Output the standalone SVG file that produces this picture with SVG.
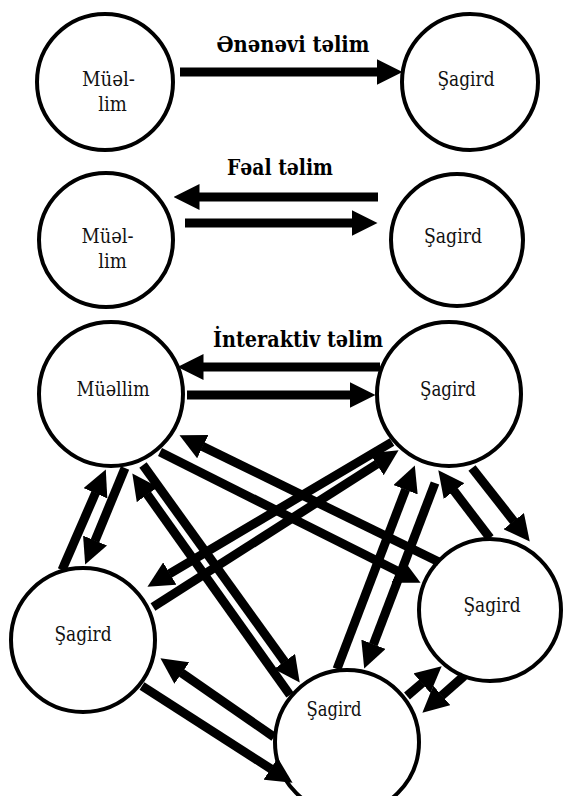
<svg xmlns="http://www.w3.org/2000/svg" width="564" height="796" viewBox="0 0 564 796">
<style>
.node circle{fill:#fff;stroke:#000;stroke-width:4}
.lbl{font-family:'DejaVu Serif Condensed','DejaVu Serif',serif;font-stretch:condensed;font-size:20px;fill:#111;text-anchor:middle}
.title{font-family:'DejaVu Serif Condensed','DejaVu Serif',serif;font-stretch:condensed;font-size:23px;font-weight:bold;fill:#000;text-anchor:middle}
.conn line{stroke:#000;stroke-width:9;marker-end:url(#ah)}
</style>
<defs>
<marker id="ah" markerUnits="userSpaceOnUse" markerWidth="26" markerHeight="26" viewBox="0 0 26 26" refX="0.5" refY="13" orient="auto">
<path d="M0,0 L26,13 L0,26 z" fill="#000"/>
</marker>
</defs>
<rect width="564" height="796" fill="#fff"/>
<text class="title" x="293" y="52" textLength="153" lengthAdjust="spacingAndGlyphs">Ənənəvi təlim</text>
<text class="title" x="280" y="175" textLength="106" lengthAdjust="spacingAndGlyphs">Fəal təlim</text>
<text class="title" x="298" y="347" textLength="170" lengthAdjust="spacingAndGlyphs">İnteraktiv təlim</text>
<g id="n1" class="node"><circle cx="105" cy="82" r="68"/><text class="lbl" x="108.5" y="86" textLength="53" lengthAdjust="spacingAndGlyphs">Müəl-</text><text class="lbl" x="112.5" y="111">lim</text></g>
<g id="n2" class="node"><circle cx="470" cy="82" r="68"/><text class="lbl" x="466" y="86" textLength="57" lengthAdjust="spacingAndGlyphs">Şagird</text></g>
<g id="n3" class="node"><circle cx="106" cy="240" r="67"/><text class="lbl" x="107.5" y="243" textLength="52" lengthAdjust="spacingAndGlyphs">Müəl-</text><text class="lbl" x="112.5" y="268">lim</text></g>
<g id="n4" class="node"><circle cx="457" cy="240" r="66"/><text class="lbl" x="453" y="243" textLength="58" lengthAdjust="spacingAndGlyphs">Şagird</text></g>
<g id="nA" class="node"><circle cx="111" cy="394" r="72"/><text class="lbl" x="113" y="396" textLength="73" lengthAdjust="spacingAndGlyphs">Müəllim</text></g>
<g id="nB" class="node"><circle cx="449" cy="394" r="72"/><text class="lbl" x="448" y="396" textLength="56" lengthAdjust="spacingAndGlyphs">Şagird</text></g>
<g id="nC" class="node"><circle cx="83" cy="640" r="72"/><text class="lbl" x="83" y="641" textLength="57" lengthAdjust="spacingAndGlyphs">Şagird</text></g>
<g id="nD" class="node"><circle cx="490" cy="610" r="71"/><text class="lbl" x="492" y="612" textLength="57" lengthAdjust="spacingAndGlyphs">Şagird</text></g>
<g id="nE" class="node"><circle cx="347" cy="742" r="72"/><text class="lbl" x="334" y="716" textLength="55" lengthAdjust="spacingAndGlyphs">Şagird</text></g>
<g id="connectors" class="conn">
<line x1="180" y1="72" x2="377" y2="72"/>
<line x1="378" y1="197" x2="199" y2="197"/>
<line x1="185" y1="223" x2="352" y2="223"/>
<line x1="380" y1="367" x2="203" y2="367"/>
<line x1="187" y1="395" x2="350" y2="395"/>
<line x1="62" y1="570" x2="95.6" y2="492.8"/>
<line x1="125" y1="468" x2="94.9" y2="541"/>
<line x1="290" y1="695" x2="147.1" y2="494.2"/>
<line x1="143" y1="465" x2="284.8" y2="661.9"/>
<line x1="439" y1="562" x2="202.4" y2="446.4"/>
<line x1="160" y1="452" x2="397.8" y2="571.3"/>
<line x1="392" y1="442" x2="169.4" y2="573.8"/>
<line x1="153" y1="607" x2="377.1" y2="464"/>
<line x1="337" y1="669" x2="405.7" y2="489.3"/>
<line x1="435" y1="483" x2="373.3" y2="644.7"/>
<line x1="490" y1="538" x2="453.8" y2="490.6"/>
<line x1="472" y1="468" x2="514" y2="521.5"/>
<line x1="407" y1="696" x2="422.3" y2="682.9"/>
<line x1="464" y1="676" x2="441.5" y2="695.8"/>
<line x1="274" y1="737" x2="181.4" y2="672.8"/>
<line x1="142" y1="686" x2="271.1" y2="769"/>
</g>
</svg>
